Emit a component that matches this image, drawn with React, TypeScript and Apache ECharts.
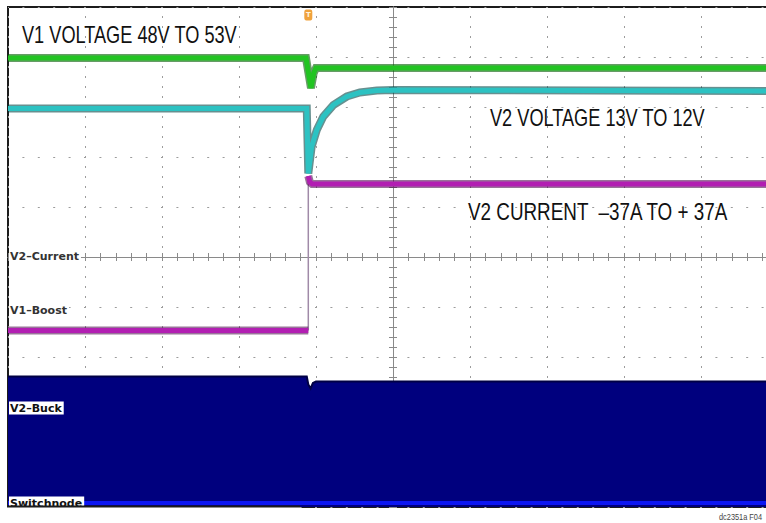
import React, { useEffect, useRef } from "react";
import * as echarts from "echarts";

// Horizontal axis: time in scope divisions (screen centre = 0).
// Vertical axis: trace level in scope divisions (screen centre = 0).
const TRIGGER_T = -1.1;

const V1_T = [-5, -1.13, -1.1, -1.065, -1.03, -1.0, 5];
const V1_V = [3.98, 3.98, 3.7, 3.38, 3.68, 3.78, 3.78];

const V2V_T = [-5, -1.12, -1.1, -1.056, -0.99, -0.905, -0.775, -0.6, -0.43, -0.21, 0, 5];
const V2V_V = [2.97, 2.97, 1.67, 2.21, 2.54, 2.81, 3.04, 3.21, 3.29, 3.33, 3.34, 3.32];

const V2I_T_BEFORE = [-5, -1.1];
const V2I_V_BEFORE = [-1.47, -1.47];
const V2I_T_AFTER = [-1.1, -1.08, -1.05, 5];
const V2I_V_AFTER = [1.62, 1.5, 1.46, 1.46];

const SW_T = [-5, -1.12, -1.1, -1.07, -1.04, -1.0, 5];
const SW_V = [-2.39, -2.39, -2.55, -2.63, -2.52, -2.49, -2.49];
const SW_LOW_T = [-5, 5];
const SW_LOW_V = [-4.92, -4.92];

const TRIGGER_MARK_LEVEL = 4.84;

const ANNOTATIONS = [
  { text: "V1 VOLTAGE 48V TO 53V", x: 22, y: 35, sx: 0.79 },
  { text: "V2 VOLTAGE 13V TO 12V", x: 490, y: 118, sx: 0.79 },
  { text: "V2 CURRENT  \u201337A TO + 37A", x: 468, y: 212, sx: 0.82 },
];

const CHANNEL_LABELS = [
  { text: "V2\u2013Current", y: 256, box: false },
  { text: "V1\u2013Boost", y: 310, box: false },
  { text: "V2\u2013Buck", y: 408, box: true },
  { text: "Switchnode", y: 503, box: true },
];

const FOOTNOTE = "dc2351a F04";

const zip = (t: number[], v: number[]) => t.map((x, i) => [x, v[i]]);

const SANS = '"Liberation Sans", Arial, sans-serif';

export default function App() {
  const ref = useRef<HTMLDivElement>(null);

  useEffect(() => {
    if (!ref.current) return;
    const chart = echarts.init(ref.current, undefined, { renderer: "svg" });

    const axisColor = "#8a8a8a";
    const dotColor = "#9c9c9c";
    const baseX = {
      type: "value",
      min: -5,
      max: 5,
      interval: 1,
      axisLabel: { show: false },
      axisLine: {
        show: true,
        onZero: true,
        onZeroAxisIndex: 0,
        lineStyle: { color: axisColor, width: 1 },
      },
      axisTick: { show: true, inside: true, length: 4, lineStyle: { color: axisColor } },
      minorTick: { show: true, splitNumber: 5, length: 4, lineStyle: { color: axisColor } },
    };

    const lineSeries = (
      name: string,
      data: number[][],
      color: string,
      width: number,
      z: number,
      extra: any = {}
    ) => ({
      name,
      type: "line",
      data,
      showSymbol: false,
      symbol: "none",
      silent: true,
      z,
      lineStyle: { color, width, cap: "butt", join: "miter" },
      ...extra,
    });

    const option: any = {
      animation: false,
      backgroundColor: "#ffffff",
      grid: {
        left: 8,
        top: 7,
        width: 770,
        height: 500,
        show: true,
        borderColor: "#1c1c1c",
        borderWidth: 2,
        backgroundColor: "transparent",
        outerBoundsMode: "none",
        containLabel: false,
      },
      xAxis: [
        {
          ...baseX,
          position: "bottom",
          splitLine: {
            show: true,
            lineStyle: { color: dotColor, width: 1, type: [2, 8], dashOffset: 1 },
          },
        },
        { ...baseX, position: "top", splitLine: { show: false } },
      ],
      yAxis: [
        {
          ...baseX,
          position: "left",
          splitLine: {
            show: true,
            lineStyle: { color: dotColor, width: 1, type: [2, 13.4], dashOffset: 1 },
          },
        },
        { ...baseX, position: "right", splitLine: { show: false } },
      ],
      series: [
        lineSeries("V2-Buck switchnode", zip(SW_T, SW_V), "#000045", 2, 2, {
          areaStyle: { color: "#00007e", opacity: 1, origin: "start" },
        }),
        lineSeries("Switchnode low", zip(SW_LOW_T, SW_LOW_V), "#0c16f2", 4, 3),
        lineSeries(
          "V2 current edge",
          [
            [TRIGGER_T, V2I_V_BEFORE[V2I_V_BEFORE.length - 1]],
            [TRIGGER_T, V2I_V_AFTER[0]],
          ],
          "#a08aa8",
          1.5,
          3
        ),
        lineSeries("V2 current shade a", zip(V2I_T_BEFORE, V2I_V_BEFORE), "rgba(70,0,70,0.55)", 8, 4),
        lineSeries("V2 current shade b", zip(V2I_T_AFTER, V2I_V_AFTER), "rgba(70,0,70,0.55)", 8, 4),
        lineSeries("V2 current a", zip(V2I_T_BEFORE, V2I_V_BEFORE), "#b21eb2", 5, 5),
        lineSeries("V2 current b", zip(V2I_T_AFTER, V2I_V_AFTER), "#b21eb2", 5, 5),
        lineSeries("V2 voltage shade", zip(V2V_T, V2V_V), "rgba(0,70,70,0.6)", 8, 4),
        lineSeries("V2 voltage", zip(V2V_T, V2V_V), "#2cc2c2", 5, 5),
        lineSeries("V1 voltage shade", zip(V1_T, V1_V), "rgba(0,90,0,0.6)", 8, 4),
        lineSeries("V1 voltage", zip(V1_T, V1_V), "#22c422", 5, 5, {
          markPoint: {
            silent: true,
            data: [
              {
                coord: [TRIGGER_T, TRIGGER_MARK_LEVEL],
                symbol: "roundRect",
                symbolSize: [8, 11],
                itemStyle: { color: "#f0a23c" },
                label: {
                  show: true,
                  formatter: "T",
                  color: "#fff4dc",
                  fontSize: 7,
                  fontWeight: "bold",
                  fontFamily: "DejaVu Sans",
                },
              },
            ],
          },
        }),
      ],
      graphic: [
        ...ANNOTATIONS.map((a) => ({
          type: "text",
          x: a.x,
          y: a.y,
          scaleX: a.sx,
          z: 20,
          style: {
            text: a.text,
            font: `23px ${SANS}`,
            fill: "#111111",
            verticalAlign: "middle",
            align: "left",
          },
        })),
        ...CHANNEL_LABELS.map((c) => ({
          type: "text",
          x: 9,
          y: c.y,
          z: 20,
          style: {
            text: c.text,
            font: 'bold 11px "DejaVu Sans", sans-serif',
            fill: c.box ? "#111111" : "#333333",
            backgroundColor: "#ffffff",
            padding: [1, 2, 1, 1],
            verticalAlign: "middle",
            align: "left",
          },
        })),
        {
          type: "rect",
          z: 30,
          shape: { x: 0, y: 507, width: 300, height: 16 },
          style: { fill: "#ffffff" },
        },
        {
          type: "line",
          z: 31,
          shape: { x1: 7, y1: 506.5, x2: 300, y2: 506.5 },
          style: { stroke: "#1c1c1c", lineWidth: 2 },
        },
        {
          type: "text",
          x: 719,
          y: 517,
          scaleX: 0.82,
          z: 20,
          style: {
            text: FOOTNOTE,
            font: `9px ${SANS}`,
            fill: "#444444",
            verticalAlign: "middle",
            align: "left",
          },
        },
      ],
    };

    chart.setOption(option);
    return () => chart.dispose();
  }, []);

  return (
    <div
      ref={ref}
      style={{ position: "fixed", left: 0, top: 0, width: 766, height: 523, background: "#fff" }}
    />
  );
}
